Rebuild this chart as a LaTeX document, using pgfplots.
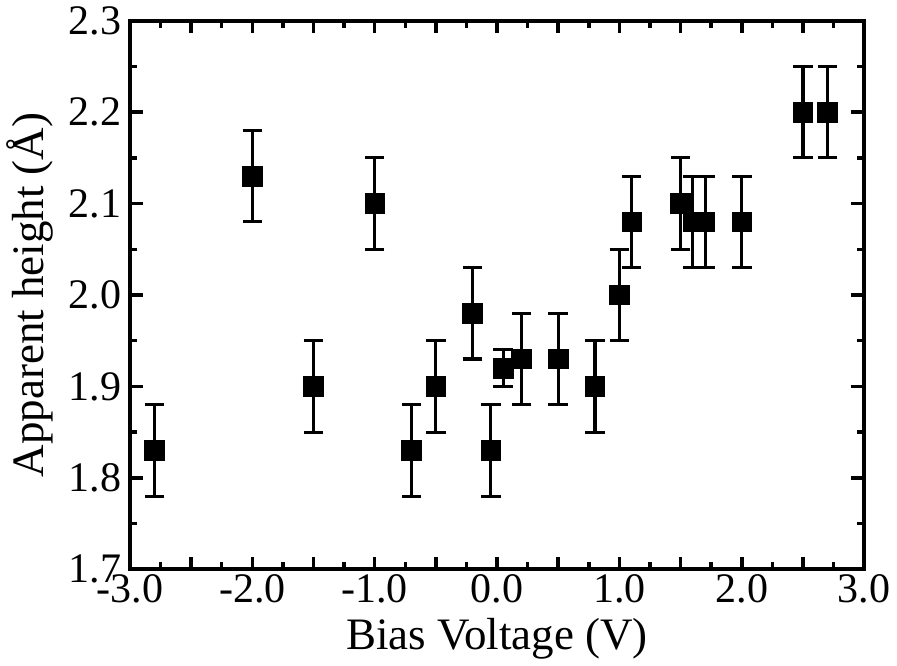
\documentclass[border=0pt]{standalone}
\usepackage{fontspec}
\setmainfont{Liberation Serif}
\usepackage{pgfplots}
\pgfplotsset{compat=1.18}
\usepackage{pgfplotstable}

\pgfplotstableread{
x     y     e
-2.8  1.83  0.05
-2.0  2.13  0.05
-1.5  1.90  0.05
-1.0  2.10  0.05
-0.7  1.83  0.05
-0.5  1.90  0.05
-0.2  1.98  0.05
-0.05 1.83  0.05
0.05  1.92  0.02
0.2   1.93  0.05
0.5   1.93  0.05
0.8   1.90  0.05
1.0   2.00  0.05
1.1   2.08  0.05
1.5   2.10  0.05
1.6   2.08  0.05
1.7   2.08  0.05
2.0   2.08  0.05
2.5   2.20  0.05
2.7   2.20  0.05
}\heights

\begin{document}
\begin{tikzpicture}
\begin{axis}[
  scale only axis,
  width=375.5pt, height=280.5pt,
  xmin=-3, xmax=3, ymin=1.7, ymax=2.3,
  axis line style={line width=2pt},
  tick style={line width=1.8pt, black},
  tick align=inside,
  major tick length=6.5pt,
  minor tick length=3.8pt,
  xtick={-3,-2.5,...,3},
  xticklabels={-3.0,,-2.0,,-1.0,,0.0,,1.0,,2.0,,3.0},
  minor xtick={-2.75,-2.25,...,2.75},
  ytick={1.7,1.8,...,2.31},
  yticklabels={1.7,1.8,1.9,2.0,2.1,2.2,2.3},
  minor ytick={1.75,1.85,...,2.26},
  tick label style={font=\fontsize{21.5}{25}\selectfont},
  xticklabel style={yshift=1pt},
  yticklabel style={xshift=-1pt},
  label style={font=\fontsize{23}{27}\selectfont},
  xlabel={Bias Voltage (V)},
  ylabel={Apparent height (Å)},
  xlabel style={yshift=-1pt},
  ylabel style={yshift=1pt},
  clip=false,
]
\addplot[only marks, mark=square*, mark size=5pt, black,
  error bars/.cd, y dir=both, y explicit,
  error bar style={line width=1.6pt, black},
  error mark options={rotate=90, mark size=5pt, line width=1.6pt, black}]
  table[x=x, y=y, y error=e] {\heights};
\end{axis}
\end{tikzpicture}
\end{document}
